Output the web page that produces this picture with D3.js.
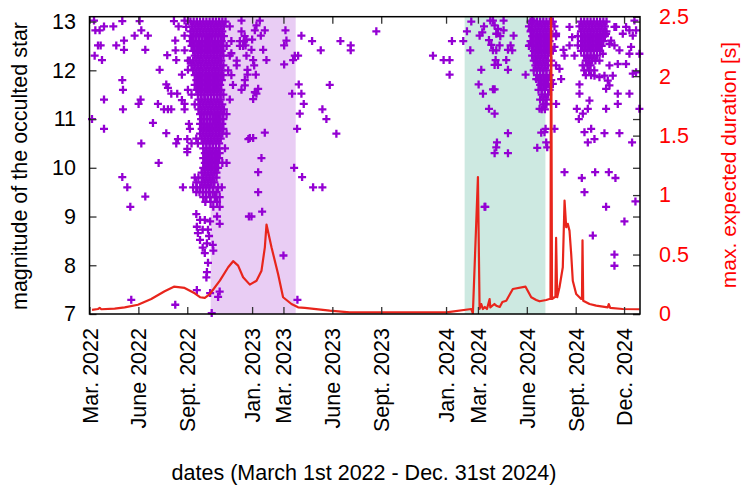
<!DOCTYPE html>
<html>
<head>
<meta charset="utf-8">
<script src="https://cdn.jsdelivr.net/npm/d3@7"></script>
<style>
body { margin: 0; background: #fff; }
svg text { font-family: "Liberation Sans", Arial, Helvetica, sans-serif; font-size: 21.5px; }
</style>
</head>
<body>
<div id="chart"></div>
<script>
// x tick dates and their labels
var tickDates = ["2022-03-01","2022-06-01","2022-09-01","2023-01-01","2023-03-01","2023-06-01","2023-09-01","2024-01-01","2024-03-01","2024-06-01","2024-09-01","2024-12-01"];
var tickLabels = ["Mar. 2022","June 2022","Sept. 2022","Jan. 2023","Mar. 2023","June 2023","Sept. 2023","Jan. 2024","Mar. 2024","June 2024","Sept. 2024","Dec. 2024"];
var magTicks = [7, 8, 9, 10, 11, 12, 13];
var durTicks = [0, 0.5, 1, 1.5, 2, 2.5];

// shaded periods
var bandStart = ["2022-10-15", "2024-02-05"];
var bandEnd = ["2023-03-24", "2024-07-06"];

// occultations: [days since 1 March 2022, magnitude]
var scatterStars = [
 [8.5,13.02],[61.7,13.01],[94.3,13.01],[158.9,13.01],[178.9,13.02],[185.2,13.01],
 [11,12.82],[19.1,12.82],[27.3,12.9],[44.8,12.9],[97.5,12.82],[167.6,12.9],[182,12.89],
 [84.9,12.71],[110,12.71],[64.9,12.61],[50.4,12.51],[16,12.51],[21,12.51],[64.9,12.42],[105,12.42],[161.4,12.61],[178.9,12.71],
 [9.7,12.3],[23.5,12.21],[146.3,12.31],[162,12.41],[163.3,12.21],[178.9,12.41],
 [132,12.01],[185.2,12.2],[185.2,12.01],[173.9,11.91],
 [61.7,11.8],[63,11.6],[144.5,11.71],[147.6,11.64],[165.1,11.52],[153.9,11.52],[185.2,11.6],
 [27.3,11.4],[96.2,11.4],[92.4,11.31],[128.8,11.31],[178.9,11.31],[173.9,11.39],
 [63,11.2],[140.1,11.2],[147.6,11.2],[153.9,11.2],[178.9,11.2],
 [4.7,11.0],[119.4,10.92],[187.1,10.9],[27.3,10.8],[144.5,10.71],[166.4,10.59],[163.3,10.5],[184,10.59],[97.5,10.5],
 [184,10.39],[184,10.32],[130.1,10.1],
 [61.7,9.81],[71.1,9.6],[175.8,9.6],[105,9.41],[76.8,9.2],
 [78.6,7.29],[161.4,7.19],
 [286,13.02],[291,12.6],[283,12.5],[277,12.1],[267,12.35],[299,10.59],[300,9.0],
 [320.5,13.02],[314.2,12.92],[311.1,12.82],[329.9,12.82],[322.4,12.71],[368.8,12.82],[370.6,12.61],[366.3,12.51],[398.8,12.71],
 [295.4,12.63],[306.1,12.63],[293.6,12.51],[304.8,12.42],[326.8,12.42],[295.4,12.3],[308,12.21],[333,12.21],[386.3,12.3],
 [392.6,12.3],[383.2,12.21],[366.3,12.12],[309.9,12.1],[297.3,12.01],[297.3,11.91],[313,11.91],[292.3,11.8],[292.3,11.69],
 [317.4,11.62],[311.1,11.55],[308,11.41],[314.2,11.52],[393.8,11.71],[398.8,11.52],[381.3,11.52],[403.2,11.31],[395.7,11.11],
 [390.7,10.8],[301.7,10.61],[308,10.61],[329.9,10.72],[323.6,10.2],[317.4,9.91],[385.1,10.0],[400.1,9.81],[317.4,9.5],
 [304.8,9.0],[324.9,9.1],[365,8.2],[391.3,7.29],
 [418.9,12.6],[435.2,12.41],[472.2,12.6],[491.6,12.51],[491.6,12.41],[539.8,12.8],[452.1,11.7],[438.3,11.2],[445.8,11.0],
 [464.6,10.7],[420.8,9.6],[438.3,9.6],
 [646.4,12.3],[666.4,12.21],[677.7,12.21],[677.7,11.91],[682.1,12.6],[703.4,12.6],[716.6,12.41],[710.3,12.8],[718.5,13.0],
 [737.3,12.01],[732.3,11.71],[740.5,11.52],[742.4,12.9],[739.2,12.78],[734.2,12.71],[754.3,13.02],[759.3,13.02],[762.4,12.92],
 [768.7,12.85],[779.3,13.02],[779.3,12.82],[765.5,12.75],[773.1,12.7],[751.8,12.62],[756.1,12.52],[771.8,12.51],[759.3,12.41],
 [765.5,12.41],[787.5,12.42],[792.5,12.51],[795.6,12.41],[798.1,12.71],[764.3,12.21],[784.3,12.21],[762.4,12.11],[768.7,12.11],
 [787.5,12.01],[759.3,11.61],[762.4,11.61],[751.8,11.21],[762.4,11.11],[787.5,10.71],[766.8,10.52],[765.5,10.42],[762.4,10.3],
 [787.5,10.3],[744.9,9.2],[820.7,11.91],[833.2,13.02],[831.3,12.82],[828.2,12.51],[834.5,12.51],[840.7,12.2],[843.9,12.41],
 [840.7,11.82],[847,11.21],[850.1,10.72],[842.6,10.41],[858.3,10.8],[859.5,10.52],[861.4,10.42],
 [858.2,11.31],[856.3,10.73],[875.1,10.8],[878.2,11.31],[884.5,12.03],[887.6,11.82],[892,12.42],[893.9,12.3],[875.1,12.48],
 [878.2,12.75],[862.6,11.72],[872,11.72],[903.3,12.89],[908.3,12.68],[903.3,12.51],[912.7,12.3],[919,12.51],[922.1,11.71],
 [922.1,11.52],[917.1,11.21],[920.9,11.0],[928.4,11.11],[937.8,11.21],[940.9,11.38],[931.5,10.73],[937.8,10.52],[944.1,10.8],
 [950.3,10.59],[969.1,10.71],[997.3,10.71],[1021.1,10.52],[972.2,11.21],[978.5,11.69],[972.2,11.62],[984.8,11.89],[981.6,12.61],
 [987.9,12.51],[997.3,12.41],[1009.8,12.89],[1009.8,12.13],[1016.1,12.82],[1022.4,12.71],[1019.2,12.48],[1022.4,11.93],
 [1028.6,11.96],[994.2,11.52],[994.2,11.31],[1016.1,11.52],[1025.5,13.02],[1028.6,12.82],[1034.9,11.21],[1034.9,12.34],
 [893.9,9.91],[926.5,9.79],[931.5,9.5],[951.6,9.91],[977.3,9.91],[989.8,9.79],[972.2,9.2],[1006.7,8.9],[947.2,8.61],
 [987.9,8.22],[987.9,7.99],[1027.4,9.31],[987.9,12.89],[1003.6,12.75],[972.2,12.75],[991,12.89],[978.5,12.54],[966,12.34],
 [959.7,11.86],[969.1,11.89],[975.4,11.79],[950.3,11.89],[959.7,12.2],[978.5,12.1],[994.2,12.13],[1016.1,12.34],[743.5,9.2]
];

// dense autumn 2022 column: [magnitude, days]
var denseA = [
 [13.0,[190,196,202,208,214,220,226,232,238,244,250,256]],
 [12.9,[193,199,205,211,217,223,229,235,241,247,253,264]],
 [12.8,[190,196,202,208,214,220,226,232,238,244,250,286]],
 [12.7,[193,199,205,211,217,223,229,235,241,247,253,292]],
 [12.6,[189,195,201,207,213,219,225,231,237,243,249,267,283]],
 [12.5,[192,198,204,210,216,222,228,234,240,246,252,258,289]],
 [12.4,[195,201,207,213,219,225,231,237,243,249]],
 [12.3,[198,204,210,216,222,228,234,240,246,252,264]],
 [12.2,[189,195,201,207,213,219,225,231,237,243,248,277]],
 [12.1,[192,198,204,210,216,222,228,234,240,246,252]],
 [12.0,[195,201,207,213,219,225,231,237,243,249,261]],
 [11.9,[198,204,210,216,222,228,234,240,246,252,267]],
 [11.8,[201,207,213,219,225,231,237,243,249]],
 [11.7,[198,204,210,216,222,228,234,240,246,270]],
 [11.6,[201,207,213,219,225,231,237,243,248,286]],
 [11.5,[192,204,210,216,222,228,234,240,246,252]],
 [11.4,[205,211,217,223,229,235,241,247,264]],
 [11.3,[198,208,214,220,226,232,238,244,250]],
 [11.2,[205,211,217,223,229,235,241,247,253]],
 [11.1,[208,214,220,226,232,238,244,250,258]],
 [11.0,[210,216,222,228,234,240,246,252]],
 [10.9,[208,214,220,226,232,238,244,250]],
 [10.8,[189,211,217,223,229,235,241,247,252]],
 [10.7,[208,214,220,226,232,238,244,250,258]],
 [10.6,[201,211,217,223,229,235,241,247]],
 [10.5,[192,204,214,220,226,232,238,244]],
 [10.4,[214,220,226,232,238,244,255]],
 [10.3,[217,223,229,235,241,245]],
 [10.2,[214,220,226,232,238,244]],
 [10.1,[217,223,229,235,241,250,258]],
 [10.0,[214,220,226,232,238,242]],
 [9.9,[211,217,223,229,235,239]],
 [9.8,[198,205,214,220,226,232,239]],
 [9.7,[201,211,217,223,229,235]],
 [9.6,[195,202,208,214,220,226,233,242,249]],
 [9.5,[201,207,213,219,225,232,239]],
 [9.4,[214,220,227,236,245]],
 [9.3,[218,228,240]],
 [9.2,[233,245]]
];
var lowStarsA = [
 [208,8.93],[217,8.93],[227,8.9],[202,8.79],[213,8.73],[223,8.73],[204,8.66],[208,8.52],[213,8.36],[221,8.45],
 [232,8.42],[217,8.25],[223,8.05],[221,7.86],[202,7.49],[227,7.43],[242,7.35],[245,7.46],[230,7.02],[201,9.05],
 [240,9.0],[245,8.85],[225,8.6],[233,8.3],[220,7.75]
];
// dense summer 2024 column
var denseB = [
 [13.0,[830,836,842,848,854,860,866,872]],
 [12.9,[827,833,839,845,851,857,863,875]],
 [12.8,[830,836,842,848,854,860,866]],
 [12.7,[833,839,845,851,857,863,869,878]],
 [12.6,[830,836,842,848,854,860,866]],
 [12.5,[827,833,839,845,851,857,863]],
 [12.4,[836,842,848,854,860,866,872]],
 [12.3,[833,839,845,851,857,863]],
 [12.2,[836,842,848,854,860,869]],
 [12.1,[839,845,851,857,863,878]],
 [12.0,[836,842,848,854,860]],
 [11.9,[842,848,854,860,866]],
 [11.8,[845,851,857,863,869]],
 [11.7,[848,854,860]],
 [11.6,[845,851,857,866]],
 [11.5,[851,857,863]],
 [11.4,[848,854,860]],
 [11.3,[854,860]],
 [11.2,[851,857]]
];
// dense autumn 2024 column
var denseC = [
 [13.0,[925,931,937,943,949,955,961,967,973]],
 [12.9,[922,928,934,940,946,952,958,964,970]],
 [12.8,[925,931,937,943,949,955,961,967,973]],
 [12.7,[919,928,934,940,946,952,958,964,970]],
 [12.6,[925,931,937,943,949,955,961,967]],
 [12.5,[928,934,940,946,952,958,964]],
 [12.4,[925,931,937,943,949,955,961]],
 [12.3,[931,937,943,949,955]],
 [12.2,[934,940,946,952]],
 [12.1,[928,937,943]],
 [12.0,[931,940,950]],
 [11.9,[934,944]]
];

// max. expected duration (s)
var durDay = [4.7,16,19.2,22.2,47.4,66.2,91.2,116.2,141.4,158.9,179,189,198,208,217,226.5,245.3,261,270.3,279.7,289.1,301.7,314.3,323.7,330,333.1,342.5,354.9,364.3,380.1,392.5,405.1,452.1,489.7,671.5,718.5,721.5,731,734.1,737.3,740.3,744,748,753,754.3,762,765.5,772,777,784.3,796.7,820.6,831.3,840.7,847,859.5,865.7,867.6,868.6,870.4,875.1,876.8,878.1,880.2,884.5,890.7,894,897.1,900.1,903.3,906.5,909.5,915.9,925.3,926.8,927.8,929.1,941,953.5,975.3,977.2,979.9,1003.5,1035];
var durSec = [0.034,0.042,0.051,0.040,0.045,0.056,0.078,0.126,0.191,0.230,0.219,0.196,0.174,0.141,0.135,0.168,0.280,0.393,0.444,0.407,0.309,0.247,0.280,0.364,0.561,0.752,0.561,0.337,0.141,0.084,0.056,0.051,0.028,0.014,0.014,0.042,0.006,1.151,0.042,0.084,0.042,0.059,0.042,0.126,0.056,0.084,0.070,0.059,0.101,0.112,0.210,0.230,0.141,0.118,0.107,0.118,0.126,0.126,3.0,0.126,0.141,0.143,0.64,0.141,0.225,0.393,0.954,0.730,0.758,0.701,0.505,0.280,0.168,0.126,0.126,0.62,0.112,0.084,0.070,0.056,0.084,0.051,0.042,0.040];

var width = 743, height = 488;
var plot = {left: 89.5, right: 640, top: 16.7, bottom: 314};
var start = Date.UTC(2022, 2, 1);
var parse = d3.utcParse("%Y-%m-%d");
function dayToDate(d) { return new Date(start + d * 864e5); }

var x = d3.scaleUtc()
  .domain([new Date(start), new Date(Date.UTC(2024, 11, 31))])
  .range([plot.left, plot.right]);
var y = d3.scaleLinear().domain([7, 13.1]).range([plot.bottom, plot.top]);
var y2 = d3.scaleLinear().domain([0, 2.5]).range([plot.bottom, plot.top]);

var svg = d3.select("#chart").append("svg")
  .attr("width", width)
  .attr("height", height);

svg.append("clipPath").attr("id", "clip")
  .append("rect")
  .attr("x", plot.left).attr("y", plot.top)
  .attr("width", plot.right - plot.left).attr("height", plot.bottom - plot.top);

// shaded bands
var bandColors = ["#e9cdf4", "#cde9e1"];
svg.selectAll(".band")
  .data(bandStart)
  .enter().append("rect")
  .attr("class", "band")
  .attr("x", function(d) { return x(parse(d)); })
  .attr("y", plot.top)
  .attr("width", function(d, i) { return x(parse(bandEnd[i])) - x(parse(d)); })
  .attr("height", plot.bottom - plot.top)
  .attr("fill", function(d, i) { return bandColors[i]; });

// flatten all star points
var stars = scatterStars.slice();
[denseA, denseB, denseC].forEach(function(rows) {
  rows.forEach(function(r) {
    r[1].forEach(function(day) { stars.push([day, r[0]]); });
  });
});
stars = stars.concat(lowStarsA);

svg.append("g")
  .selectAll("path")
  .data(stars)
  .enter().append("path")
  .attr("transform", function(d) { return "translate(" + x(dayToDate(d[0])) + "," + y(d[1]) + ")"; })
  .attr("d", "M-4,0H4M0,-4V4")
  .attr("stroke", "#9400d3")
  .attr("stroke-width", 2.3)
  .attr("fill", "none");

// duration curve
var line = d3.line()
  .x(function(d, i) { return x(dayToDate(durDay[i])); })
  .y(function(d) { return y2(d); });

svg.append("path")
  .datum(durSec)
  .attr("clip-path", "url(#clip)")
  .attr("d", line)
  .attr("fill", "none")
  .attr("stroke", "#e8251c")
  .attr("stroke-width", 2.2)
  .attr("stroke-linejoin", "round");

// axes
var tickColor = "#333";
function styleAxis(g) {
  g.select(".domain").remove();
  g.selectAll(".tick line").attr("stroke", tickColor).attr("stroke-width", 1.3);
  g.selectAll("text").attr("fill", "#000").style("font-size", "21.5px");
}

var xAxis = svg.append("g")
  .attr("transform", "translate(0," + plot.bottom + ")")
  .call(d3.axisBottom(x)
    .tickValues(tickDates.map(parse))
    .tickSize(-7)
    .tickFormat(function(d, i) { return tickLabels[i]; }))
  .call(styleAxis);
xAxis.selectAll("text")
  .attr("transform", "rotate(-90)")
  .attr("text-anchor", "end")
  .attr("x", -14)
  .attr("y", 0)
  .attr("dy", "0.35em");

svg.append("g")
  .attr("transform", "translate(0," + plot.top + ")")
  .call(d3.axisTop(x).tickValues(tickDates.map(parse)).tickSize(-7).tickFormat(""))
  .call(styleAxis);

svg.append("g")
  .attr("transform", "translate(" + plot.left + ",0)")
  .call(d3.axisLeft(y).tickValues(magTicks).tickSize(-7).tickPadding(13.5).tickFormat(d3.format("d")))
  .call(styleAxis);

svg.append("g")
  .attr("transform", "translate(" + plot.right + ",0)")
  .call(d3.axisRight(y).tickValues(magTicks).tickSize(-7).tickFormat(""))
  .call(styleAxis);

var y2Axis = svg.append("g")
  .attr("transform", "translate(" + plot.right + ",0)")
  .call(d3.axisRight(y2).tickValues(durTicks).tickSize(-7).tickPadding(19)
    .tickFormat(function(d) { return String(d); }))
  .call(styleAxis);
y2Axis.selectAll("text").attr("fill", "#ff0000");

// frame
svg.append("rect")
  .attr("x", plot.left).attr("y", plot.top)
  .attr("width", plot.right - plot.left).attr("height", plot.bottom - plot.top)
  .attr("fill", "none")
  .attr("stroke", "#000")
  .attr("stroke-width", 1.5);

// axis titles
svg.append("text")
  .attr("transform", "translate(19,166) rotate(-90)")
  .attr("text-anchor", "middle")
  .attr("dy", "0.35em")
  .attr("fill", "#000")
  .text("magnitude of the occulted star");

svg.append("text")
  .attr("transform", "translate(729,165) rotate(-90)")
  .attr("text-anchor", "middle")
  .attr("dy", "0.35em")
  .attr("fill", "#ff0000")
  .style("font-size", "21px")
  .text("max. expected duration [s]");

svg.append("text")
  .attr("x", 364)
  .attr("y", 472)
  .attr("text-anchor", "middle")
  .attr("dy", "0.35em")
  .attr("fill", "#000")
  .text("dates (March 1st 2022 - Dec. 31st 2024)");
</script>
</body>
</html>
